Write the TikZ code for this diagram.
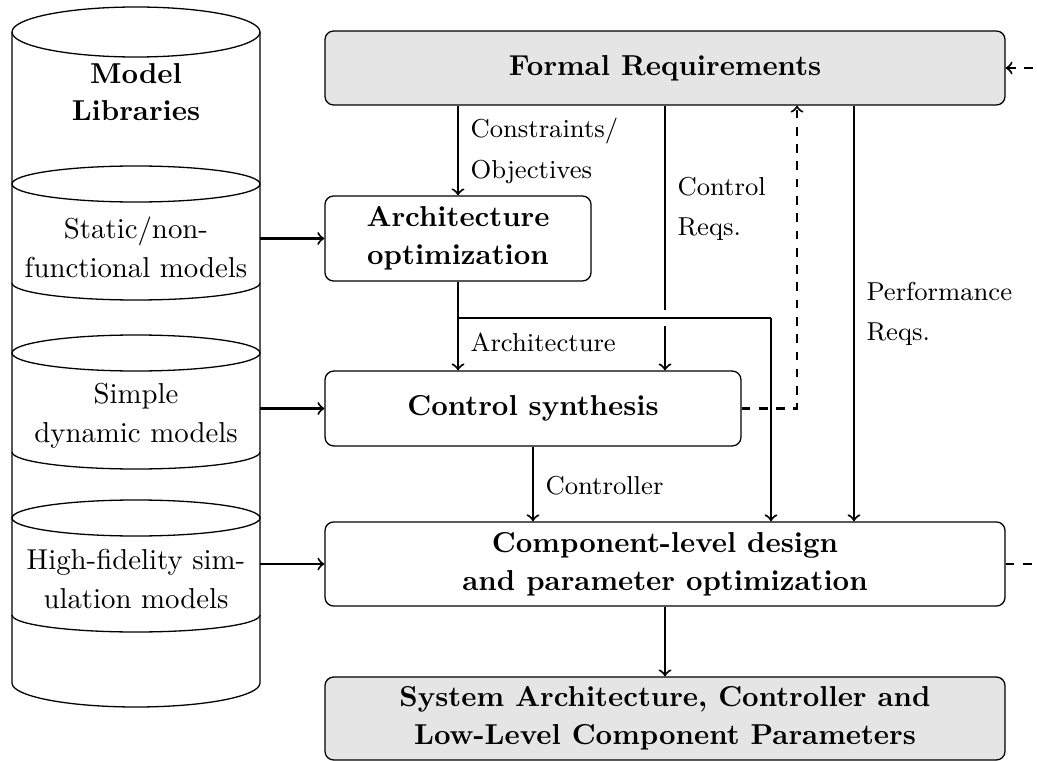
\documentclass[tikz,border=0pt]{standalone}
\usetikzlibrary{calc}
\begin{document}
\begin{tikzpicture}[x=0.3472pt, y=-0.3472pt,
  box/.style={draw, rounded corners=3pt, line width=0.45pt, inner sep=0pt, align=center,
    font=\fontsize{10pt}{13.2pt}\selectfont\bfseries},
  graybox/.style={box, fill=black!10},
  flow/.style={->, line width=0.7pt},
  fbk/.style={->, dashed, line width=0.7pt},
  lbl/.style={anchor=west, inner sep=0pt, align=left, font=\fontsize{9pt}{14pt}\selectfont},
  lib/.style={align=center, inner sep=0pt, font=\fontsize{10pt}{13.5pt}\selectfont},
  libtitle/.style={align=center, inner sep=0pt, font=\fontsize{10pt}{12.9pt}\selectfont\bfseries},
  cyl/.style={line width=0.45pt}
]
\useasboundingbox (0,0) rectangle (1037,761);

% model library cylinder
\draw[cyl] (136,32) ellipse [x radius=43.05pt, y radius=8.68pt];
\draw[cyl] (12,32) -- (12,683) arc[start angle=180, end angle=360, x radius=43.05pt, y radius=8.33pt] -- (260,32);
\draw[cyl] (136,184) ellipse [x radius=43.05pt, y radius=6.25pt];
\draw[cyl] (12,283) arc[start angle=180, end angle=360, x radius=43.05pt, y radius=5.9pt];
\draw[cyl] (136,353) ellipse [x radius=43.05pt, y radius=6.25pt];
\draw[cyl] (12,452) arc[start angle=180, end angle=360, x radius=43.05pt, y radius=5.9pt];
\draw[cyl] (136,518) ellipse [x radius=43.05pt, y radius=6.25pt];
\draw[cyl] (12,615) arc[start angle=180, end angle=360, x radius=43.05pt, y radius=5.9pt];

\node[libtitle] (mlib) at (136,92) {Model\\Libraries};
\node[lib] (lstat) at (136,247) {Static/non-\\functional models};
\node[lib] (ldyn) at (136,416) {Simple\\dynamic models};
\node[lib] (lhf) at (136,579) {High-fidelity sim-\\ulation models};

\coordinate (o1) at (260,238.5);
\coordinate (o2) at (260,408.5);
\coordinate (o3) at (260,564);

% process boxes
\node[graybox, minimum width=236.1pt, minimum height=25.7pt] (FR) at (665,68) {Formal Requirements};
\node[box, minimum width=92.4pt, minimum height=29.5pt] (AO) at (458,238.5) {Architecture\\optimization};
\node[box, minimum width=144.4pt, minimum height=26pt] (CS) at (533,408.5) {Control synthesis};
\node[box, minimum width=236.1pt, minimum height=29.2pt] (CLD) at (665,564) {Component-level design\\and parameter optimization};
\node[graybox, minimum width=236.1pt, minimum height=28.8pt] (SA) at (665,718.5) {System Architecture, Controller and\\Low-Level Component Parameters};

% helper points
\coordinate (br) at (458,318);
\coordinate (bc) at (771,318);
\coordinate (pf) at (854,200);
\coordinate (fbc) at (797,408.5);
\coordinate (rl) at (1065,564);

% requirement flows
\draw[flow] (AO.north |- FR.south) -- (AO.north);
\draw[flow] (FR.south) -- (FR.south |- CS.north);
\draw[flow] (pf |- FR.south) -- (pf |- CLD.north);

% architecture branch, crossing over the control requirement line
\draw[line width=0.7pt, preaction={draw=white, line width=5.5pt}] (br) -- (bc);
\draw[flow] (bc) -- (bc |- CLD.north);
\draw[flow] (AO.south) -- (AO.south |- CS.north);
\draw[flow] (CS.south) -- (CS.south |- CLD.north);
\draw[flow] (CLD.south) -- (SA.north);

% library inputs
\draw[flow] (o1) -- (AO.west);
\draw[flow] (o2) -- (CS.west);
\draw[flow] (o3) -- (CLD.west);

% feedback loops
\draw[fbk] (CS.east) -- (fbc) -- (fbc |- FR.south);
\draw[fbk] (CLD.east) -- (rl) -- (rl |- FR.east) -- (FR.east);

% labels
\node[lbl] (lc) at (470,151) {Constraints/\\Objectives};
\node[lbl] (lcr) at (677,209) {Control\\Reqs.};
\node[lbl] (lp) at (866,314) {Performance\\Reqs.};
\node[lbl] (la) at (470,342) {Architecture};
\node[lbl] (lct) at (545,485.5) {Controller};
\end{tikzpicture}
\end{document}
